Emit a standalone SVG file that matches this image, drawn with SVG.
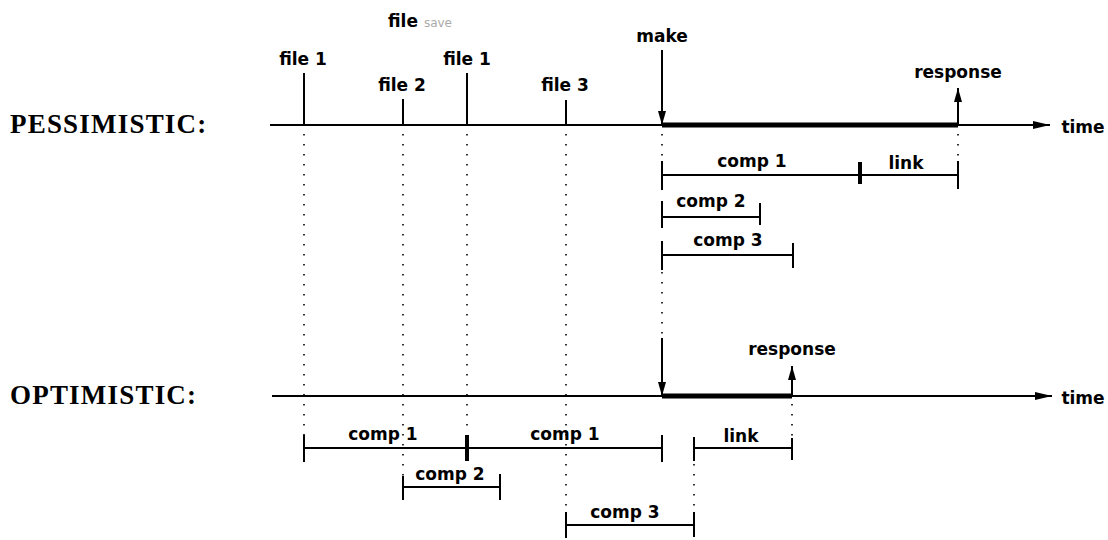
<svg xmlns="http://www.w3.org/2000/svg" width="1108" height="540" viewBox="0 0 1108 540">
<style>
.lbl{font-family:"DejaVu Sans","Liberation Sans",sans-serif;font-weight:bold;font-size:17px;fill:#000;text-anchor:middle}
.ttl{font-family:"Liberation Serif","DejaVu Serif",serif;font-weight:bold;font-size:27px;fill:#000;letter-spacing:1.2px}
.axis{stroke:#000;stroke-width:2;fill:none}
.thick{stroke:#000;stroke-width:5;fill:none}
.bar{stroke:#000;stroke-width:2;fill:none}
.tick{stroke:#000;stroke-width:2;fill:none}
.ttick{stroke:#000;stroke-width:4;fill:none}
.dot{stroke:#000;stroke-width:1.6;stroke-dasharray:1.6 8.4;fill:none}
</style>
<defs>
<marker id="arrT" markerUnits="userSpaceOnUse" markerWidth="18" markerHeight="10" refX="17" refY="4.5" orient="auto"><path d="M0,0.5 L17,4.5 L0,8.5 z" fill="#000"/></marker>
<marker id="arrS" markerUnits="userSpaceOnUse" markerWidth="15" markerHeight="10" refX="14" refY="4" orient="auto"><path d="M0,0 L14,4 L0,8 z" fill="#000"/></marker>
</defs>
<rect width="1108" height="540" fill="#fff"/>

<g id="connectors">
<!-- dotted guide lines -->
<line class="dot" x1="304" y1="134" x2="304" y2="440"/>
<line class="dot" x1="403" y1="134" x2="403" y2="476"/>
<line class="dot" x1="467" y1="134" x2="467" y2="434"/>
<line class="dot" x1="566" y1="134" x2="566" y2="512"/>
<line class="dot" x1="662" y1="134" x2="662" y2="158"/>
<line class="dot" x1="662" y1="272" x2="662" y2="336"/>
<line class="dot" x1="958" y1="134" x2="958" y2="160"/>
<line class="dot" x1="792" y1="404" x2="792" y2="438"/>
<line class="dot" x1="694" y1="464" x2="694" y2="512"/>
</g>

<g id="pessimistic">
<text class="ttl" x="10" y="133">PESSIMISTIC:</text>
<line class="axis" x1="270" y1="125" x2="1050" y2="125" marker-end="url(#arrT)"/>
<text class="lbl" x="1083" y="133">time</text>
<!-- file events -->
<line class="tick" x1="304" y1="73" x2="304" y2="125"/>
<line class="tick" x1="403" y1="99" x2="403" y2="125"/>
<line class="tick" x1="467" y1="73" x2="467" y2="125"/>
<line class="tick" x1="566" y1="100" x2="566" y2="125"/>
<text class="lbl" x="303" y="65">file 1</text>
<text class="lbl" x="402" y="91">file 2</text>
<text class="lbl" x="467" y="65">file 1</text>
<text class="lbl" x="565" y="91">file 3</text>
<text class="lbl" x="403" y="27" text-anchor="start" style="text-anchor:start" dx="-15">file <tspan style="font-size:12px;font-weight:normal;fill:#aaa">save</tspan></text>
<!-- make / response -->
<text class="lbl" x="662" y="42">make</text>
<line class="thick" x1="662" y1="125" x2="958" y2="125"/>
<line class="axis" x1="662" y1="50" x2="662" y2="125" marker-end="url(#arrS)"/>
<line class="axis" x1="958" y1="125" x2="958" y2="88" marker-end="url(#arrS)"/>
<text class="lbl" x="958" y="78">response</text>
<!-- bars -->
<line class="bar" x1="662" y1="175" x2="958" y2="175"/>
<line class="tick" x1="662" y1="161" x2="662" y2="190"/>
<line class="ttick" x1="860" y1="162" x2="860" y2="184"/>
<line class="tick" x1="958" y1="161" x2="958" y2="189"/>
<text class="lbl" x="752" y="167">comp 1</text>
<text class="lbl" x="906" y="169">link</text>

<line class="bar" x1="662" y1="217" x2="760" y2="217"/>
<line class="tick" x1="662" y1="201" x2="662" y2="228"/>
<line class="tick" x1="760" y1="203" x2="760" y2="225"/>
<text class="lbl" x="711" y="207">comp 2</text>

<line class="bar" x1="662" y1="255" x2="793" y2="255"/>
<line class="tick" x1="662" y1="241" x2="662" y2="270"/>
<line class="tick" x1="793" y1="243" x2="793" y2="268"/>
<text class="lbl" x="728" y="246">comp 3</text>
</g>

<g id="optimistic">
<text class="ttl" x="10" y="404">OPTIMISTIC:</text>
<line class="axis" x1="272" y1="396" x2="1052" y2="396" marker-end="url(#arrT)"/>
<text class="lbl" x="1083" y="404">time</text>
<line class="thick" x1="662" y1="396" x2="792" y2="396"/>
<line class="axis" x1="662" y1="338" x2="662" y2="396" marker-end="url(#arrS)"/>
<line class="axis" x1="792" y1="396" x2="792" y2="366" marker-end="url(#arrS)"/>
<text class="lbl" x="792" y="355">response</text>

<line class="bar" x1="304" y1="448" x2="662" y2="448"/>
<line class="tick" x1="304" y1="435" x2="304" y2="462"/>
<line class="ttick" x1="467" y1="435" x2="467" y2="461"/>
<line class="tick" x1="662" y1="435" x2="662" y2="462"/>
<text class="lbl" x="383" y="440">comp 1</text>
<text class="lbl" x="565" y="440">comp 1</text>

<line class="bar" x1="694" y1="448" x2="792" y2="448"/>
<line class="tick" x1="694" y1="437" x2="694" y2="461"/>
<line class="tick" x1="792" y1="438" x2="792" y2="460"/>
<text class="lbl" x="741" y="442">link</text>

<line class="bar" x1="403" y1="487" x2="500" y2="487"/>
<line class="tick" x1="403" y1="476" x2="403" y2="500"/>
<line class="tick" x1="500" y1="474" x2="500" y2="500"/>
<text class="lbl" x="450" y="480">comp 2</text>

<line class="bar" x1="566" y1="525" x2="694" y2="525"/>
<line class="tick" x1="566" y1="512" x2="566" y2="538"/>
<line class="tick" x1="694" y1="512" x2="694" y2="537"/>
<text class="lbl" x="625" y="518">comp 3</text>
</g>
</svg>
